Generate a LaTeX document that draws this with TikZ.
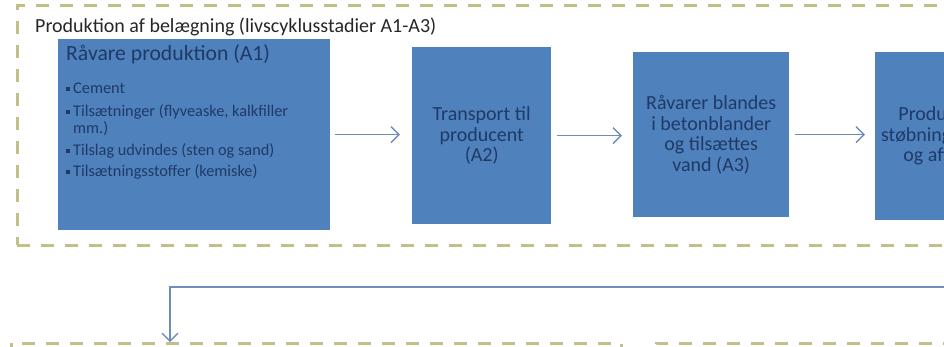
\documentclass[tikz,border=0pt]{standalone}
\usepackage{fontspec}
\setmainfont{Carlito}
\usetikzlibrary{positioning,arrows.meta}

\definecolor{stageblue}{HTML}{4F81BD}
\definecolor{stagetext}{HTML}{1F3A66}
\definecolor{frameline}{HTML}{C2BF88}
\definecolor{flowline}{HTML}{6F8DBA}

\newcommand{\sqbullet}{\raisebox{0.3ex}{\rule{3.5pt}{3.5pt}}\hspace{3.5pt}}

\tikzset{
    stage/.style={rectangle, fill=stageblue, text=stagetext, align=center,
        font=\fontsize{20}{20.5}\selectfont, inner sep=1pt},
    lcaframe/.style={rectangle, draw=frameline, line width=2.5pt,
        dash pattern=on 13pt off 11pt},
    flow/.style={draw=flowline, line width=1.4pt,
        -{Straight Barb[length=8pt,width=16pt]}}
}

\begin{document}
\begin{tikzpicture}[x=1pt, y=-1pt]
    \useasboundingbox (0,0) rectangle (944,346);
    \clip (0,0) rectangle (944,346);

    % ramme for A1-A3
    \node[lcaframe, anchor=north west, minimum width=1000pt, minimum height=240pt] (prodframe) at (16,4) {};
    \node[anchor=west, font=\fontsize{20}{22}\selectfont, text=black!85, inner sep=0pt] (prodtitle) at (35,27)
        {Produktion af belægning (livscyklusstadier A1-A3)};

    % stadier
    \node[stage, anchor=north west, minimum width=272pt, minimum height=191pt] (a1) at (58,39) {};
    \node[anchor=north west, text=stagetext, align=left, inner sep=0pt,
        font=\fontsize{16.3}{17}\selectfont] (a1text) at (66,44)
        {{\fontsize{21.7}{23}\selectfont Råvare produktion (A1)}\\[16pt]
         \sqbullet Cement\\[6pt]
         \sqbullet Tilsætninger (flyveaske, kalkfiller\\
         \hspace*{7pt}mm.)\\[5pt]
         \sqbullet Tilslag udvindes (sten og sand)\\[4pt]
         \sqbullet Tilsætningsstoffer (kemiske)};
    \node[stage, anchor=north west, minimum width=139pt, minimum height=177pt] (a2) at (412,47)
        {Transport til\\producent\\(A2)};
    \node[stage, anchor=north west, minimum width=156pt, minimum height=165pt] (a3) at (633,52)
        {Råvarer blandes\\i betonblander\\og tilsættes\\vand (A3)};
    \node[stage, anchor=north west, minimum width=170pt, minimum height=168pt] (a4) at (875,52)
        {Produktion ved\\støbning, hærdning\\og afformning};

    \draw[flow] ([xshift=5pt]a1.east) -- ([xshift=-12pt]a1.east -| a2.west);
    \draw[flow] ([xshift=6pt]a2.east) -- ([xshift=-11pt]a2.east -| a3.west);
    \draw[flow] ([xshift=6pt]a3.east) -- ([xshift=-10pt]a3.east -| a4.west);

    % rammer for de næste faser
    \node[lcaframe, anchor=north west, minimum width=610pt, minimum height=100pt] (useframe) at (10,342) {};
    \node[lcaframe, anchor=north west, minimum width=400pt, minimum height=100pt] (endframe) at (655,342) {};

    \coordinate (turn) at (170,287);
    \draw[flow] (a4.south) |- (turn) -- (turn |- useframe.north);
\end{tikzpicture}
\end{document}
